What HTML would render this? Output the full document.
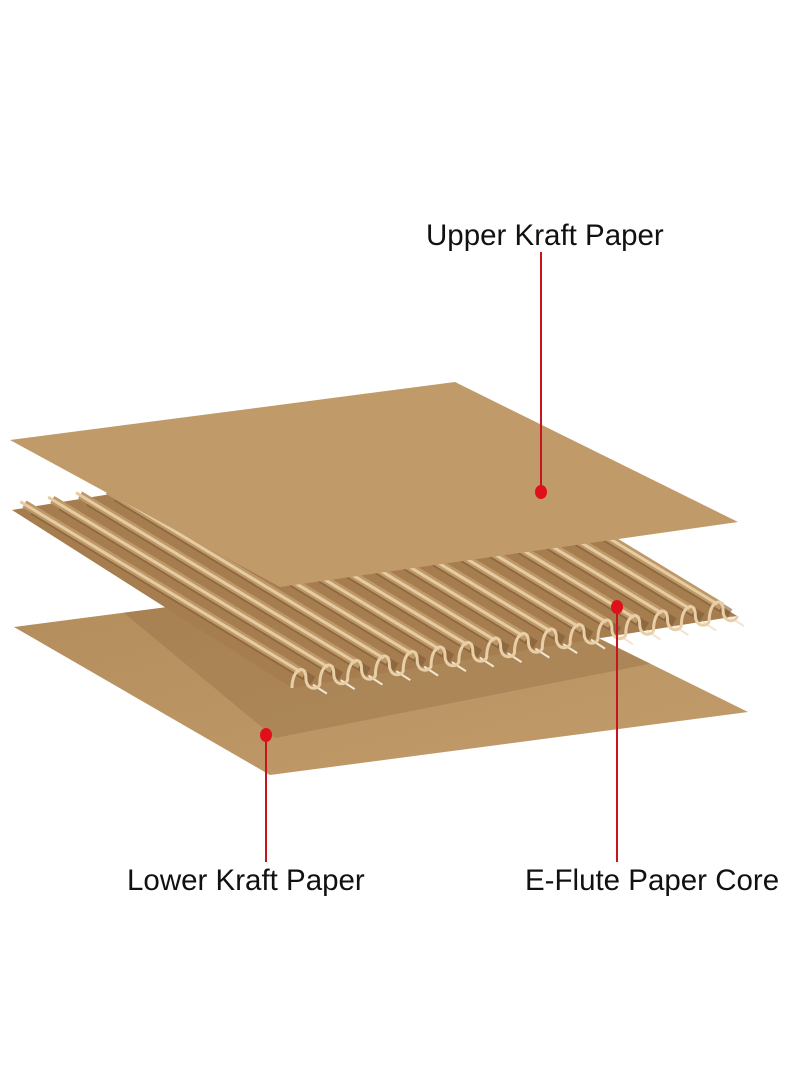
<!DOCTYPE html>
<html><head><meta charset="utf-8"><style>
html,body{margin:0;padding:0;background:#fff;width:800px;height:1091px;overflow:hidden}
.t{position:absolute;font-family:"Liberation Sans",sans-serif;font-size:29.5px;color:#111;white-space:nowrap}
</style></head><body>
<svg id="s" width="800" height="1091" viewBox="0 0 800 1091" style="position:absolute;left:0;top:0">
<defs>
<linearGradient id="bot" x1="0" y1="0" x2="1" y2="1"><stop offset="0" stop-color="#b38c5c"/><stop offset="1" stop-color="#c29c6b"/></linearGradient>
<clipPath id="bc"><polygon points="14,627 459,569 748,712 270,775"/></clipPath>
</defs>
<polygon points="14,627 459,569 748,712 270,775" fill="url(#bot)"/>
<polygon clip-path="url(#bc)" points="60,560 480,497 720,650 275,738" fill="#8f6a3e" opacity="0.35"/>
<g id="fl"></g>
<polygon points="10,440 455,382 738,522 280,587" fill="#c09a69"/>
<line x1="541" y1="252" x2="541" y2="492" stroke="#c8141c" stroke-width="2"/>
<ellipse cx="541" cy="492" rx="6" ry="7" fill="#e0101a"/>
<line x1="617" y1="607" x2="617" y2="862" stroke="#c8141c" stroke-width="2"/>
<ellipse cx="617" cy="607" rx="6" ry="7" fill="#e0101a"/>
<line x1="266" y1="735" x2="266" y2="862" stroke="#c8141c" stroke-width="2"/>
<ellipse cx="266" cy="735" rx="6" ry="7" fill="#e0101a"/>
</svg>
<div class="t" style="left:426px;top:219px">Upper Kraft Paper</div>
<div class="t" style="left:127px;top:864px">Lower Kraft Paper</div>
<div class="t" style="left:525px;top:864px">E-Flute Paper Core</div>
<script>
var g=document.getElementById('fl'),NS='http://www.w3.org/2000/svg';
function el(n,a){var e=document.createElementNS(NS,n);for(var k in a)e.setAttribute(k,a[k]);g.appendChild(e);return e;}
var F0=[292,688],E=[445,-72],D=[-280,-170],N=16;
el('polygon',{points:[F0[0]+D[0],F0[1]+D[1]-8,F0[0]+D[0]+E[0],F0[1]+D[1]+E[1]-8,F0[0]+E[0],F0[1]+E[1],F0[0],F0[1]].join(' '),fill:'#a67d4f'});
for(var k=0;k<N;k++){
 var fx=F0[0]+E[0]*k/N,fy=F0[1]+E[1]*k/N;
 var sx=E[0]/N,sy=E[1]/N;
 var vx=fx+sx*0.75,vy=fy+sy*0.75-4;
 el('line',{x1:vx,y1:vy,x2:vx+D[0],y2:vy+D[1],stroke:'#7f5c36','stroke-width':9,opacity:0.6});
 var bx=fx+sx*0.45,by=fy+sy*0.45-12;
 el('line',{x1:bx,y1:by,x2:bx+D[0],y2:by+D[1],stroke:'#bf9868','stroke-width':8});
 var cx=fx+sx*0.3,cy=fy+sy*0.3-15;
 el('line',{x1:cx,y1:cy,x2:cx+D[0],y2:cy+D[1],stroke:'#e6cca3','stroke-width':3});
 var gx=fx+sx*0.75,gy=fy+sy*0.75;
 el('line',{x1:gx,y1:gy,x2:gx+14,y2:gy+9,stroke:'#f2e6d2','stroke-width':2});
}
var d='M'+F0[0]+','+F0[1];
for(var k=0;k<N;k++){
 var fx=F0[0]+E[0]*k/N,fy=F0[1]+E[1]*k/N,sx=E[0]/N,sy=E[1]/N;
 d+=' C'+(fx)+','+(fy-20)+' '+(fx+sx*0.5)+','+(fy+sy*0.5-22)+' '+(fx+sx*0.5)+','+(fy+sy*0.5-8);
 d+=' C'+(fx+sx*0.5)+','+(fy+sy*0.5+6)+' '+(fx+sx)+','+(fy+sy+6)+' '+(fx+sx)+','+(fy+sy);
}
el('path',{d:d,fill:'none',stroke:'#e8cfa8','stroke-width':3});
</script>
</body></html>
